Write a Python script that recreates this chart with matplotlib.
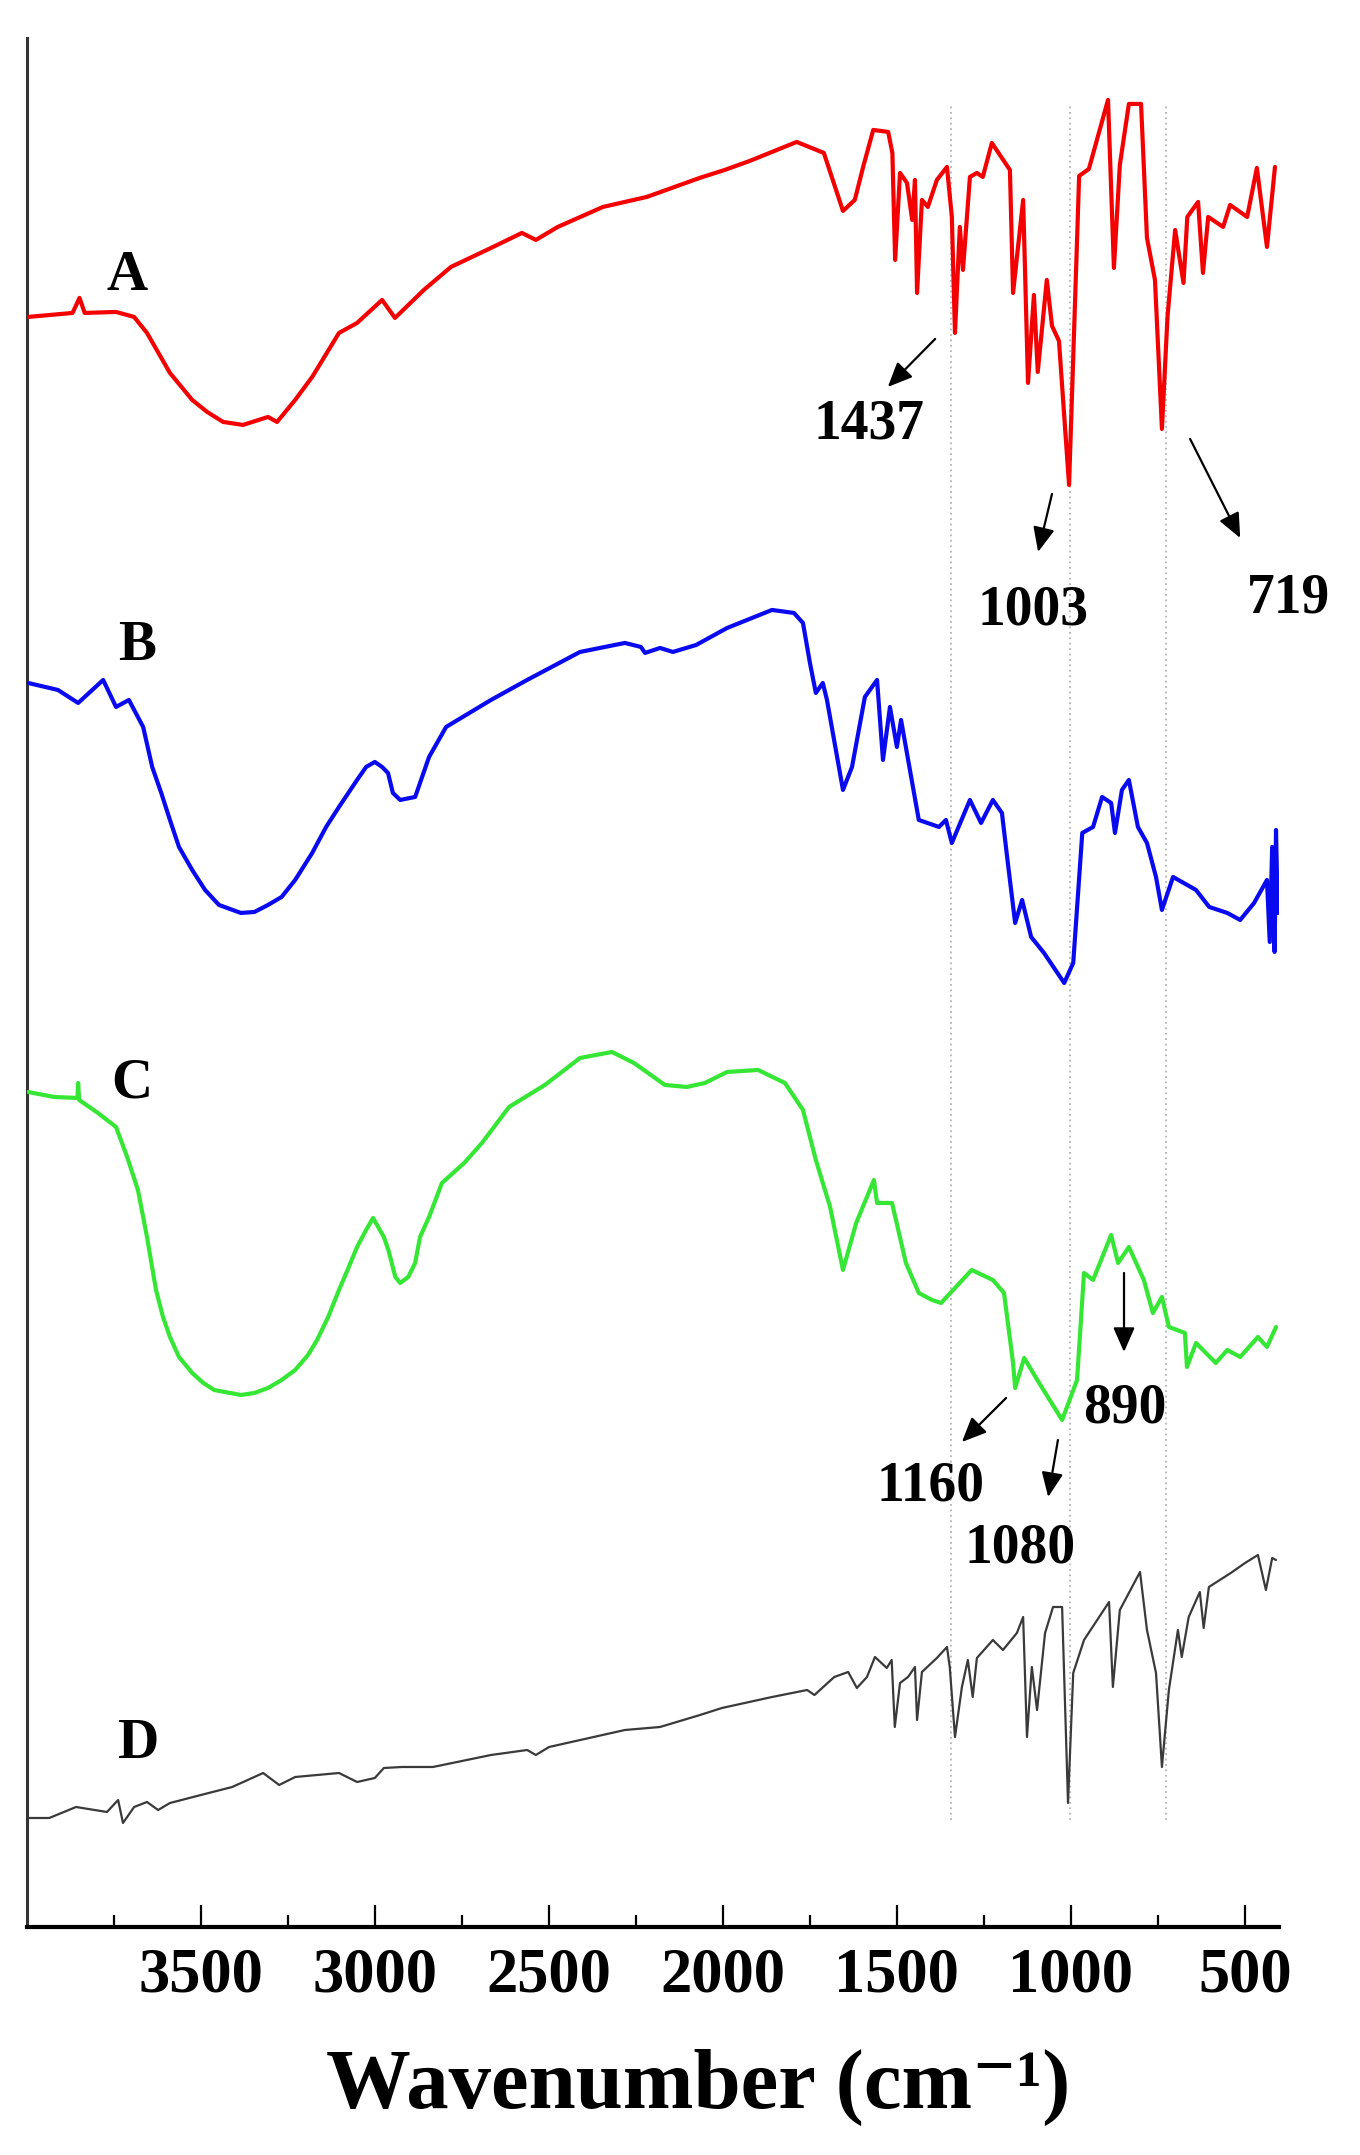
import matplotlib
matplotlib.use('Agg')
import matplotlib.pyplot as plt

# FTIR spectra, stacked (transmittance, arbitrary offset units)
wn_a = [3998, 3870, 3850, 3835, 3745, 3693, 3656, 3590, 3526, 3483, 3437, 3380, 3308, 3282, 3230, 3181,
        3104, 3052, 2980, 2943, 2860, 2782, 2667, 2578, 2538, 2475, 2345, 2219, 2067, 1995, 1923, 1788,
        1710, 1655, 1621, 1597, 1568, 1525, 1513, 1505, 1491, 1471, 1456, 1448, 1442, 1428, 1411, 1385,
        1356, 1342, 1333, 1319, 1310, 1290, 1270, 1253, 1227, 1175, 1166, 1137, 1123, 1106, 1095, 1069,
        1054, 1034, 1005, 976, 948, 893, 876, 859, 833, 798, 781, 758, 738, 722, 700, 676, 665, 634, 620,
        605, 562, 542, 493, 465, 436, 413]
t_a = [1610, 1614, 1629, 1614, 1615, 1610, 1594, 1554, 1527, 1515, 1505, 1502, 1510, 1505, 1527, 1550,
       1594, 1604, 1627, 1609, 1637, 1660, 1679, 1694, 1687, 1700, 1720, 1730, 1749, 1757, 1766, 1785,
       1774, 1716, 1727, 1760, 1797, 1795, 1774, 1667, 1754, 1744, 1707, 1747, 1634, 1727, 1720, 1747,
       1760, 1710, 1594, 1700, 1657, 1750, 1754, 1750, 1784, 1757, 1634, 1727, 1544, 1632, 1555, 1647,
       1601, 1586, 1442, 1751, 1758, 1827, 1659, 1762, 1823, 1823, 1689, 1647, 1498, 1610, 1697, 1644, 1710, 1725, 1654,
       1710, 1700, 1722, 1710, 1759, 1680, 1760]

wn_b = [3998, 3912, 3854, 3782, 3745, 3708, 3667, 3641, 3615, 3590, 3564, 3526, 3489, 3449, 3386, 3347,
        3308, 3269, 3230, 3181, 3141, 3104, 3052, 3026, 3001, 2980, 2963, 2949, 2928, 2885, 2865, 2845,
        2796, 2667, 2563, 2411, 2282, 2236, 2224, 2181, 2144, 2077, 1988, 1859, 1796, 1770, 1750, 1733,
        1713, 1701, 1655, 1629, 1592, 1557, 1540, 1520, 1500, 1488, 1437, 1379, 1359, 1342, 1290, 1258,
        1224, 1198, 1181, 1160, 1140, 1114, 1077, 1019, 993, 967, 936, 910, 884, 873, 853, 833, 807, 781,
        755, 738, 706, 640, 602, 550, 513, 473, 436, 428, 421, 414, 410, 405]
t_b = [1244, 1237, 1224, 1247, 1220, 1227, 1200, 1160, 1134, 1107, 1080, 1057, 1037, 1022, 1014, 1015,
       1022, 1030, 1047, 1074, 1100, 1120, 1147, 1160, 1165, 1160, 1154, 1134, 1127, 1130, 1150, 1170,
       1200, 1227, 1247, 1275, 1284, 1280, 1274, 1279, 1275, 1282, 1299, 1317, 1314, 1304, 1264, 1234,
       1244, 1227, 1137, 1160, 1230, 1247, 1167, 1220, 1180, 1207, 1107, 1100, 1107, 1084, 1127, 1104,
       1127, 1114, 1064, 1004, 1027, 990, 974, 944, 964, 1094, 1100, 1130, 1124, 1094, 1137, 1147, 1100, 1084,
       1050, 1017, 1050, 1037, 1020, 1014, 1007, 1024, 1047, 985, 1080, 975, 1097, 1014]

wn_c = [3998, 3923, 3856, 3854, 3851, 3797, 3745, 3713, 3682, 3656, 3630, 3610, 3590, 3564, 3526, 3494,
        3463, 3386, 3347, 3308, 3269, 3230, 3193, 3167, 3135, 3104, 3077, 3052, 3026, 3006, 2975, 2962,
        2942, 2928, 2905, 2885, 2871, 2845, 2808, 2744, 2693, 2615, 2512, 2411, 2319, 2256, 2167, 2104,
        2052, 1988, 1899, 1822, 1770, 1733, 1692, 1655, 1617, 1566, 1557, 1514, 1474, 1437, 1399, 1373,
        1285, 1224, 1192, 1166, 1160, 1134, 1091, 1025, 982, 962, 936, 884, 864, 833, 790, 764, 738, 718,
        672, 666, 640, 583, 550, 513, 462, 436, 410]
t_c = [835, 830, 829, 844, 827, 814, 800, 770, 737, 690, 637, 610, 590, 570, 554, 544,
       537, 532, 534, 539, 547, 557, 572, 587, 610, 637, 659, 680, 697, 709, 690, 677,
       650, 644, 650, 664, 690, 710, 744, 764, 784, 820, 842, 869, 875, 864, 842, 840,
       844, 855, 857, 844, 817, 767, 720, 657, 704, 747, 724, 724, 664, 634, 627, 624,
       657, 647, 634, 564, 539, 569, 544, 507, 547, 654, 647, 692, 664, 680, 647, 614, 630, 600,
       594, 560, 584, 564, 577, 570, 590, 580, 600]

wn_d = [3998, 3937, 3860, 3771, 3739, 3725, 3693, 3656, 3624, 3590, 3501, 3411, 3322, 3276, 3230, 3104,
        3052, 3001, 2975, 2923, 2834, 2667, 2563, 2538, 2500, 2282, 2181, 2066, 2003, 1859, 1758, 1737,
        1680, 1640, 1615, 1586, 1563, 1529, 1515, 1506, 1491, 1468, 1448, 1442, 1428, 1385, 1356, 1348,
        1333, 1313, 1296, 1282, 1270, 1224, 1195, 1155, 1137, 1126, 1112, 1097, 1074, 1051, 1025, 1008,
        993, 962, 890, 879, 859, 801, 781, 755, 738, 718, 692, 681, 661, 629, 618, 603, 540, 499, 462,
        439, 421, 410]
t_d = [109, 109, 120, 115, 127, 104, 120, 125, 117, 124, 132, 140, 154, 142, 150, 154,
       145, 149, 159, 160, 160, 172, 177, 172, 180, 197, 200, 212, 219, 230, 237, 232,
       250, 255, 239, 250, 270, 259, 267, 200, 244, 250, 260, 207, 255, 269, 280, 260,
       190, 240, 267, 230, 269, 287, 277, 294, 310, 190, 260, 217, 294, 320, 320, 124,
       254, 287, 325, 240, 317, 355, 297, 254, 160, 237, 297, 270, 310, 335, 299, 340, 354, 364, 372,
       337, 369, 367]

curve_names = ['A', 'B', 'C', 'D']
ref_lines = [1345, 1003, 725]
peak_labels = ['1437', '1003', '719', '1160', '1080', '890']
xticks = [3500, 3000, 2500, 2000, 1500, 1000, 500]

# layout (data coordinates)
name_pos = [(3713, 1637), (3685, 1267), (3699, 829), (3681, 169)]
arrow_from = [(1390, 1588), (1054, 1433), (657, 1488), (1186, 529), (1037, 487), (847, 654)]
arrow_to = [(1526, 1540), (1094, 1375), (513, 1389), (1313, 485), (1065, 430), (847, 575)]
peak_text_pos = [(1580, 1488), (1109, 1302), (373, 1314), (1402, 426), (1146, 364), (844, 504)]

plt.rcParams['font.family'] = ['Liberation Serif', 'DejaVu Serif']
plt.rcParams['font.weight'] = 'bold'

fig = plt.figure(figsize=(13.6, 21.55), dpi=100, facecolor='white')
ax = fig.add_axes([0.0201, 0.1058, 0.9207, 0.8766])

ax.vlines(ref_lines, 107, 1824, colors='#b4b4b4', linestyles=(0, (1, 2)), linewidth=1.3, zorder=1)

line_kw = dict(solid_joinstyle='round', solid_capstyle='round', zorder=3)
ax.plot(wn_a, t_a, color='#f50000', linewidth=3.0, **line_kw)
ax.plot(wn_b, t_b, color='#0a0af0', linewidth=3.0, **line_kw)
ax.plot(wn_c, t_c, color='#35e635', linewidth=3.0, **line_kw)
ax.plot(wn_d, t_d, color='#3a3a3a', linewidth=1.6, **line_kw)

for name, (x, y) in zip(curve_names, name_pos):
    ax.text(x, y, name, ha='center', va='baseline', fontsize=41, fontweight='bold')

for lab, p0, p1, tp in zip(peak_labels, arrow_from, arrow_to, peak_text_pos):
    ax.annotate('', xy=p1, xytext=p0, annotation_clip=False,
                arrowprops=dict(arrowstyle='-|>,head_length=0.5,head_width=0.22',
                                color='black', lw=1.6, mutation_scale=30,
                                shrinkA=0, shrinkB=0))
    ax.text(tp[0], tp[1], lab, ha='center', va='baseline', fontsize=40, fontweight='bold')

ax.set_xlim(4000, 400)
ax.set_ylim(0, 1889)
ax.set_xticks(xticks)
ax.set_xticklabels([str(t) for t in xticks])
ax.set_xticks([3750, 3250, 2750, 2250, 1750, 1250, 750], minor=True)
ax.set_yticks([])
ax.tick_params(axis='x', which='major', direction='in', length=16, width=1.6, pad=15, labelsize=45)
ax.tick_params(axis='x', which='minor', direction='in', length=9, width=1.6)

ax.spines['top'].set_visible(False)
ax.spines['right'].set_visible(False)
ax.spines['left'].set_color('#333333')
ax.spines['left'].set_linewidth(2.2)
ax.spines['bottom'].set_linewidth(3)

fig.text(698 / 1360, 47 / 2155, 'Wavenumber (cm\u207b\u00b9)', ha='center', va='baseline',
         fontsize=61, fontweight='bold')

fig.savefig('out.png', dpi=100, facecolor='white')
plt.close()
